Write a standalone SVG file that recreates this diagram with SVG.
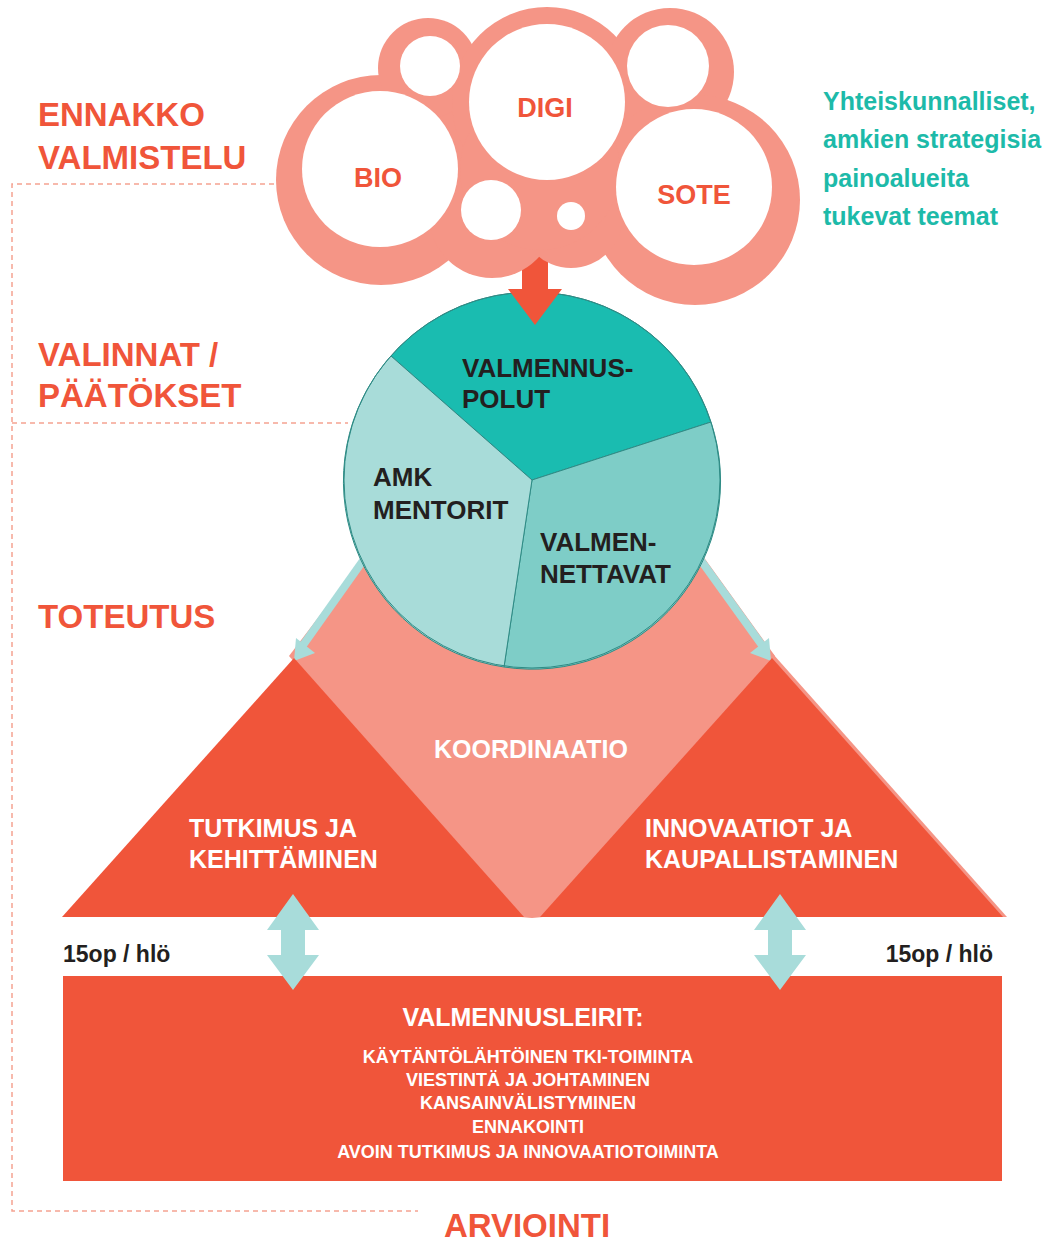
<svg xmlns="http://www.w3.org/2000/svg" width="1058" height="1242" viewBox="0 0 1058 1242">
<style>
  text { font-family: "Liberation Sans", Arial, sans-serif; font-weight: bold; }
  .phase { fill: #F0553A; font-size: 33px; }
  .dash { fill: none; stroke: #F5A291; stroke-width: 1.5; stroke-dasharray: 5 4; }
  .pink { fill: #F59586; }
  .hole { fill: #FFFFFF; }
  .theme { fill: #F0553A; font-size: 27px; text-anchor: middle; }
  .pietxt { fill: #231F20; font-size: 26px; }
  .white { fill: #FFFFFF; }
  .orange { fill: #F0553A; }
  .salmon { fill: #F59586; }
  .lteal { fill: #A8DCDA; }
  .seg { stroke: #2E8B85; stroke-width: 1; }
  .tri { fill: #FFFFFF; font-size: 25px; }
  .sub { fill: #FFFFFF; font-size: 18px; text-anchor: middle; }
  .op { fill: #231F20; font-size: 23px; }
  .side { fill: #1DBAA9; font-size: 25px; }
</style>

<g id="phase-lines">
  <polyline class="dash" points="274,184 12,184 12,1211 418,1211"/>
  <line class="dash" x1="12" y1="423" x2="348" y2="423"/>
</g>

<g id="phase-labels">
  <text class="phase" x="38" y="126">ENNAKKO</text>
  <text class="phase" x="38" y="169">VALMISTELU</text>
  <text class="phase" x="38" y="366">VALINNAT /</text>
  <text class="phase" x="38" y="407">PÄÄTÖKSET</text>
  <text class="phase" x="38" y="628">TOTEUTUS</text>
  <text class="phase" x="527" y="1237" text-anchor="middle">ARVIOINTI</text>
</g>

<g id="koordinaatio">
  <polygon class="salmon" points="368,552 289,656 521,917 532,918 543,917 775,656 700,552"/>
  <polygon class="salmon" points="773,654 1007,917 1000,917 771,661"/>
  <text class="white" x="531" y="758" font-size="25" text-anchor="middle">KOORDINAATIO</text>
</g>

<g id="connectors">
  <line x1="372" y1="548" x2="301" y2="648" stroke="#A8DCDA" stroke-width="8"/>
  <polygon class="lteal" points="294,661 296,638 315,653"/>
  <line x1="692" y1="548" x2="764" y2="648" stroke="#A8DCDA" stroke-width="8"/>
  <polygon class="lteal" points="771,661 769,638 750,653"/>
</g>

<g id="tutkimus">
  <polygon class="orange" points="62,917 294,658 524,917"/>
  <text class="tri" x="189" y="837">TUTKIMUS JA</text>
  <text class="tri" x="189" y="868">KEHITTÄMINEN</text>
</g>

<g id="innovaatiot">
  <polygon class="orange" points="540,917 772,658 1003,917"/>
  <text class="tri" x="645" y="837">INNOVAATIOT JA</text>
  <text class="tri" x="645" y="868">KAUPALLISTAMINEN</text>
</g>

<g id="pie">
  <path class="seg" fill="#1ABCB0" d="M532,480 L391,356 A188,188 0 0,1 711,422 Z"/>
  <path class="seg" fill="#7ECDC7" d="M532,480 L711,422 A188,188 0 0,1 504,667 Z"/>
  <path class="seg" fill="#A8DCD9" d="M532,480 L504,667 A188,188 0 0,1 391,356 Z"/>
  <circle cx="532" cy="480" r="188" fill="none" stroke="#2E8B85" stroke-width="1"/>
  <text class="pietxt" x="462" y="377">VALMENNUS-</text>
  <text class="pietxt" x="462" y="408">POLUT</text>
  <text class="pietxt" x="373" y="486">AMK</text>
  <text class="pietxt" x="373" y="519">MENTORIT</text>
  <text class="pietxt" x="540" y="551">VALMEN-</text>
  <text class="pietxt" x="540" y="583">NETTAVAT</text>
</g>

<g id="down-arrow">
  <polygon class="orange" points="522,230 548,230 548,289 562,289 535,325 508,289 522,289"/>
</g>

<g id="cloud">
  <circle class="pink" cx="381" cy="180" r="105"/>
  <circle class="pink" cx="428" cy="68" r="50"/>
  <circle class="pink" cx="547" cy="102" r="95"/>
  <circle class="pink" cx="670" cy="72" r="64"/>
  <circle class="pink" cx="695" cy="200" r="105"/>
  <circle class="pink" cx="492" cy="215" r="63"/>
  <circle class="pink" cx="571" cy="216" r="52"/>
  <circle class="pink" cx="540" cy="170" r="80"/>
  <circle class="hole" cx="380" cy="169" r="78"/>
  <circle class="hole" cx="547" cy="102" r="78"/>
  <circle class="hole" cx="694" cy="187" r="78"/>
  <circle class="hole" cx="430" cy="66" r="30"/>
  <circle class="hole" cx="668" cy="66" r="41"/>
  <circle class="hole" cx="491" cy="210" r="30"/>
  <circle class="hole" cx="571" cy="216" r="14"/>
  <text class="theme" x="378" y="187">BIO</text>
  <text class="theme" x="545" y="117">DIGI</text>
  <text class="theme" x="694" y="204">SOTE</text>
</g>

<g id="side-note">
  <text class="side" x="823" y="110">Yhteiskunnalliset,</text>
  <text class="side" x="823" y="148">amkien strategisia</text>
  <text class="side" x="823" y="187">painoalueita</text>
  <text class="side" x="823" y="225">tukevat teemat</text>
</g>

<g id="valmennusleirit">
  <rect class="orange" x="63" y="976" width="939" height="205"/>
  <text class="white" x="523" y="1026" font-size="25" text-anchor="middle">VALMENNUSLEIRIT:</text>
  <text class="sub" x="528" y="1063">KÄYTÄNTÖLÄHTÖINEN TKI-TOIMINTA</text>
  <text class="sub" x="528" y="1086">VIESTINTÄ JA JOHTAMINEN</text>
  <text class="sub" x="528" y="1109">KANSAINVÄLISTYMINEN</text>
  <text class="sub" x="528" y="1133">ENNAKOINTI</text>
  <text class="sub" x="528" y="1158">AVOIN TUTKIMUS JA INNOVAATIOTOIMINTA</text>
</g>

<g id="double-arrows">
  <polygon class="lteal" points="293,894 319,930 305,930 305,955 319,955 293,990 267,955 281,955 281,930 267,930"/>
  <polygon class="lteal" points="780,894 806,930 792,930 792,955 806,955 780,990 754,955 768,955 768,930 754,930"/>
</g>

<g id="credits">
  <text class="op" x="63" y="962">15op / hlö</text>
  <text class="op" x="993" y="962" text-anchor="end">15op / hlö</text>
</g>
</svg>
